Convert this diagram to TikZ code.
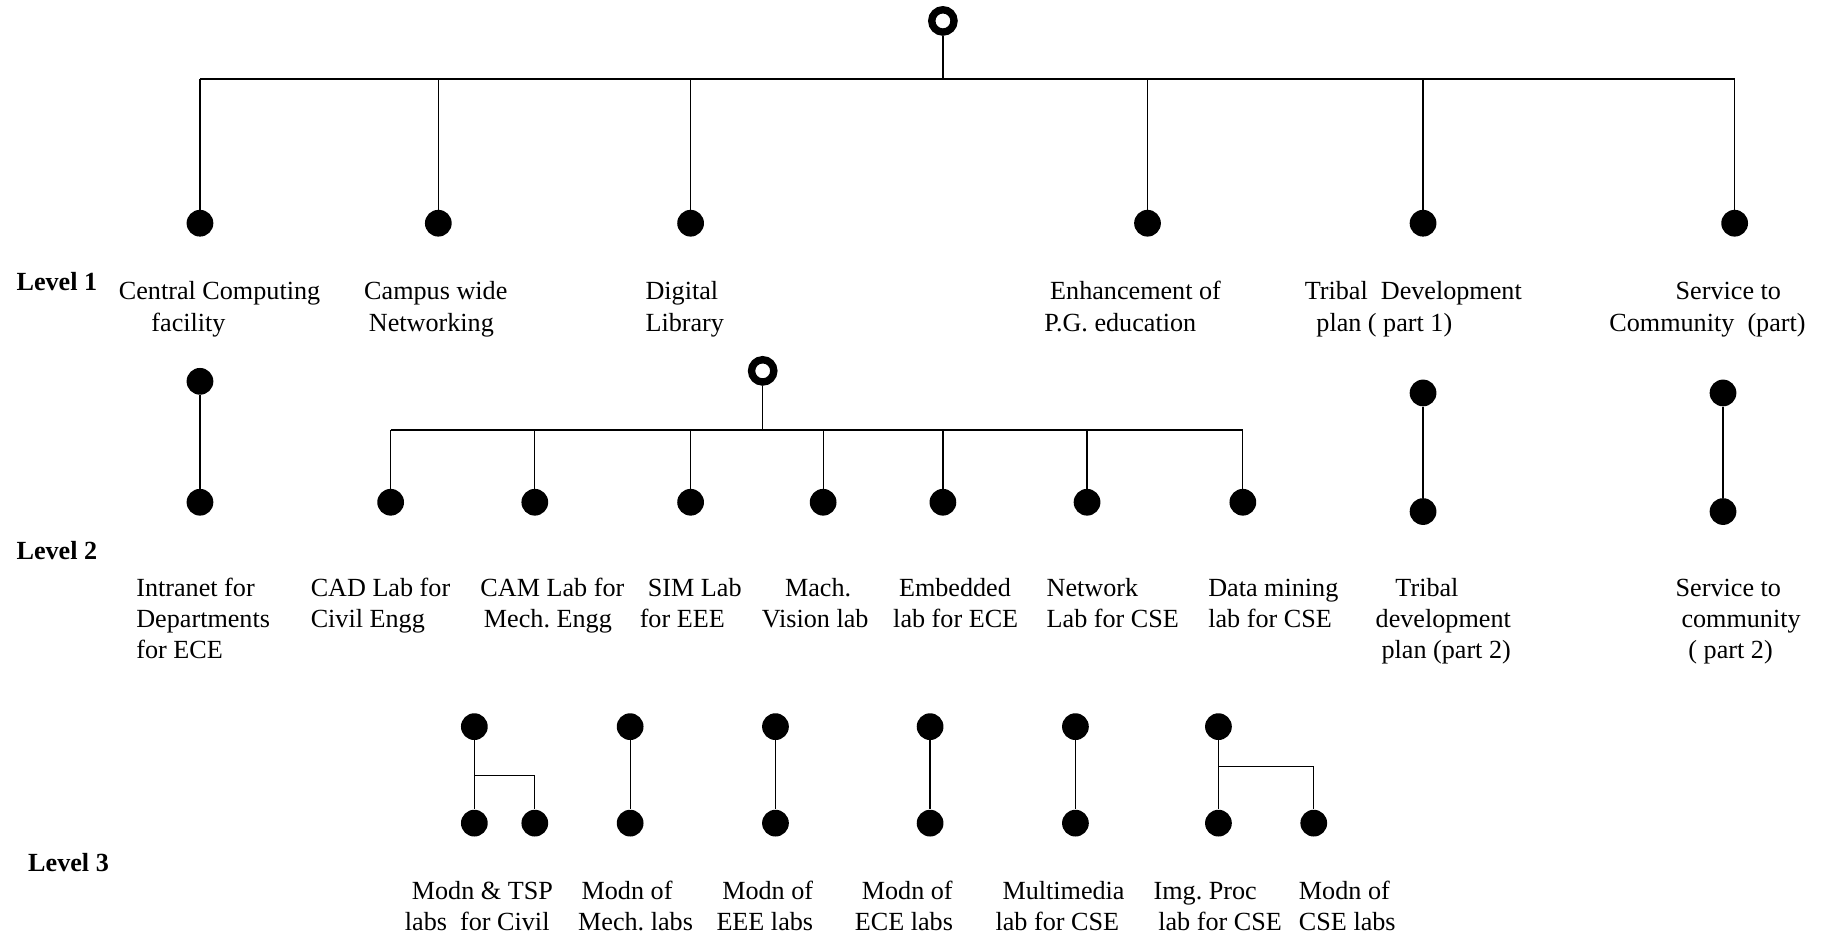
\documentclass[tikz,border=0pt]{standalone}
\usepackage{fontspec}
\setmainfont{Liberation Serif}
\frenchspacing
\newlength\pxu
\setlength\pxu{0.025cm}
\newcommand\Lines[1]{\begin{tabular}[t]{@{}l@{}}#1\end{tabular}}
\newcommand\ind[1]{\hspace*{#1\pxu}}
\tikzset{
  dot/.style={circle, fill=black, inner sep=0pt, minimum size=0.575cm},
  ring/.style={circle, draw=black, fill=white, line width=4.5pt, inner sep=0pt, minimum size=0.48cm},
  lbl/.style={anchor=base west, inner sep=0pt, font=\fontsize{16}{19}\selectfont},
  lvl/.style={anchor=base west, inner sep=0pt, font=\fontsize{16}{19}\selectfont\bfseries},
  conn/.style={line width=0.75pt},
  barline/.style={line width=1pt}
}
\begin{document}
\begin{tikzpicture}[x=0.025cm, y=-0.025cm]
\useasboundingbox (0,0) rectangle (1568,806);

% ---------- Level 1 ----------
\coordinate (j1) at (811,68);
\node[dot] (a1) at (172,192) {};
\node[dot] (a2) at (377,192) {};
\node[dot] (a3) at (594,192) {};
\node[dot] (a4) at (987,192) {};
\node[dot] (a5) at (1224,192) {};
\node[dot] (a6) at (1492,192) {};
\draw[barline] (a1 |- j1) -- (a6 |- j1);
\draw[conn] (a1) -- (a1 |- j1);
\draw[conn] (a2) -- (a2 |- j1);
\draw[conn] (a3) -- (a3 |- j1);
\draw[conn] (a4) -- (a4 |- j1);
\draw[conn] (a5) -- (a5 |- j1);
\draw[conn] (a6) -- (a6 |- j1);
\node[ring] (root) at (811,18) {};
\draw[conn] (root) -- (j1);

\node[lvl] (lv1) at (14,250) {Level 1};
\node[lbl] (la1) at (102,258) {\Lines{Central Computing\\\ind{28}facility}};
\node[lbl] (la2) at (313,258) {\Lines{Campus wide\\\ind{4}Networking}};
\node[lbl] (la3) at (555,258) {\Lines{Digital\\Library}};
\node[lbl] (la4) at (898,258) {\Lines{\ind{5}Enhancement of\\P.G. education}};
\node[lbl] (la5) at (1122,258) {\Lines{Tribal~~Development\\\ind{10}plan ( part 1)}};
\node[lbl] (la6) at (1384,258) {\Lines{\ind{57}Service to\\Community~~(part)}};

% ---------- Level 2 ----------
\node[dot] (i1) at (172,328) {};
\node[dot] (i2) at (172,432) {};
\draw[conn] (i1) -- (i2);

\coordinate (j2) at (656,370);
\node[dot] (b1) at (336,432) {};
\node[dot] (b2) at (460,432) {};
\node[dot] (b3) at (594,432) {};
\node[dot] (b4) at (708,432) {};
\node[dot] (b5) at (811,432) {};
\node[dot] (b6) at (935,432) {};
\node[dot] (b7) at (1069,432) {};
\draw[barline] (b1 |- j2) -- (b7 |- j2);
\draw[conn] (b1) -- (b1 |- j2);
\draw[conn] (b2) -- (b2 |- j2);
\draw[conn] (b3) -- (b3 |- j2);
\draw[conn] (b4) -- (b4 |- j2);
\draw[conn] (b5) -- (b5 |- j2);
\draw[conn] (b6) -- (b6 |- j2);
\draw[conn] (b7) -- (b7 |- j2);
\node[ring] (root2) at (656,319) {};
\draw[conn] (root2) -- (j2);

\node[dot] (t1) at (1224,338) {};
\node[dot] (t2) at (1224,440) {};
\draw[conn] (t1) -- (t2);
\node[dot] (s1) at (1482,338) {};
\node[dot] (s2) at (1482,440) {};
\draw[conn] (s1) -- (s2);

\node[lvl] (lv2) at (14,481) {Level 2};
\node[lbl] (lb0) at (117,513) {\Lines{Intranet for\\Departments\\for ECE}};
\node[lbl] (lb1) at (267,513) {\Lines{CAD Lab for\\Civil Engg}};
\node[lbl] (lb2) at (413,513) {\Lines{CAM Lab for\\\ind{3}Mech. Engg}};
\node[lbl] (lb3) at (550,513) {\Lines{\ind{7}SIM Lab\\for EEE}};
\node[lbl] (lb4) at (655,513) {\Lines{\ind{20}Mach.\\Vision lab}};
\node[lbl] (lb5) at (768,513) {\Lines{\ind{5}Embedded\\lab for ECE}};
\node[lbl] (lb6) at (900,513) {\Lines{Network\\Lab for CSE}};
\node[lbl] (lb7) at (1039,513) {\Lines{Data mining\\lab for CSE}};
\node[lbl] (lb8) at (1183,513) {\Lines{\ind{17}Tribal\\development\\\ind{5}plan (part 2)}};
\node[lbl] (lb9) at (1441,513) {\Lines{Service to\\\ind{5}community\\\ind{11}( part 2)}};

% ---------- Level 3 ----------
\node[dot] (c1) at (408,625) {};
\node[dot] (c1a) at (408,708) {};
\node[dot] (c1b) at (460,708) {};
\coordinate (k1) at (408,667);
\draw[conn] (c1) -- (c1a);
\draw[conn] (k1) -| (c1b);

\node[dot] (c2) at (542,625) {};
\node[dot] (c2a) at (542,708) {};
\draw[conn] (c2) -- (c2a);
\node[dot] (c3) at (667,625) {};
\node[dot] (c3a) at (667,708) {};
\draw[conn] (c3) -- (c3a);
\node[dot] (c4) at (800,625) {};
\node[dot] (c4a) at (800,708) {};
\draw[conn] (c4) -- (c4a);
\node[dot] (c5) at (925,625) {};
\node[dot] (c5a) at (925,708) {};
\draw[conn] (c5) -- (c5a);

\node[dot] (c6) at (1048,625) {};
\node[dot] (c6a) at (1048,708) {};
\node[dot] (c6b) at (1130,708) {};
\coordinate (k6) at (1048,659);
\draw[conn] (c6) -- (c6a);
\draw[conn] (k6) -| (c6b);

\node[lvl] (lv3) at (24,750) {Level 3};
\node[lbl] (lc1) at (348,774) {\Lines{\ind{6}Modn \& TSP\\labs~~for Civil}};
\node[lbl] (lc2) at (497,774) {\Lines{\ind{3}Modn of\\Mech. labs}};
\node[lbl] (lc3) at (616,774) {\Lines{\ind{5}Modn of\\EEE labs}};
\node[lbl] (lc4) at (735,774) {\Lines{\ind{6}Modn of\\ECE labs}};
\node[lbl] (lc5) at (856,774) {\Lines{\ind{6}Multimedia\\lab for CSE}};
\node[lbl] (lc6) at (992,774) {\Lines{Img. Proc\\\ind{4}lab for CSE}};
\node[lbl] (lc7) at (1117,774) {\Lines{Modn of\\CSE labs}};
\end{tikzpicture}
\end{document}
